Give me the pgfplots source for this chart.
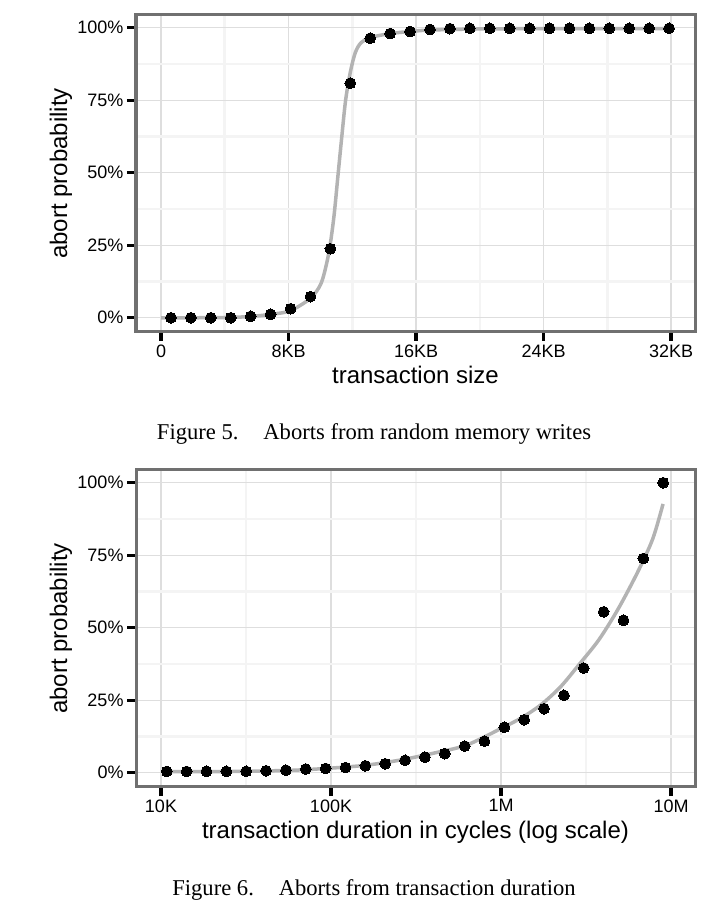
\documentclass[border=0pt]{standalone}
\usepackage{pgfplots}
\pgfplotsset{compat=1.18}
\usepackage{fontspec}
\setmainfont{Liberation Sans}
\newfontfamily\capfont{Liberation Serif}
\definecolor{bordergray}{RGB}{112,112,112}
\definecolor{fitgray}{RGB}{179,179,179}
\definecolor{majgrid}{RGB}{222,222,222}
\definecolor{mingrid}{RGB}{244,244,244}
\pgfplotsset{
 ggstyle/.style={
  scale only axis, width=559bp, height=317bp,
  anchor=south west,
  axis line style={draw=bordergray, line width=3bp},
  tick align=outside, xtick pos=bottom, ytick pos=left,
  major tick length=9bp, minor tick length=0pt,
  every major tick/.append style={draw=black, line width=3.3bp},
  grid=both,
  major grid style={draw=majgrid, line width=1.2bp},
  minor grid style={draw=mingrid, line width=2.6bp},
  ymin=-4.9, ymax=104.4,
  ytick={0,25,50,75,100}, yticklabels={0\%,25\%,50\%,75\%,100\%},
  minor ytick={12.5,37.5,62.5,87.5},
  tick label style={font=\fontsize{18bp}{20bp}\selectfont, text=black},
  label style={font=\fontsize{24bp}{28bp}\selectfont},
  ylabel={abort probability},
  ylabel style={at={(axis description cs:-0.1234,0.5)}, anchor=base},
  xlabel style={at={(axis description cs:0.5,-0.164)}, anchor=base},
  /pgf/number format/assume math mode=true,
 },
 ptstyle/.style={only marks, mark=*, mark size=5.4bp, mark options={draw=black, fill=black, line width=0pt}},
 fitstyle/.style={no marks, smooth, color=fitgray, line width=3.5bp},
}
\begin{document}
\begin{tikzpicture}
\path[use as bounding box] (0,0) rectangle (722bp,919bp);
% Figure 5
\begin{axis}[ggstyle, at={(136bp,587bp)},
  xmin=-1.57, xmax=33.5,
  xtick={0,8,16,24,32}, xticklabels={0,8KB,16KB,24KB,32KB},
  minor xtick={4,12,20,28},
  xlabel={transaction size}]
\addplot[ptstyle] coordinates {
(0.625,0) (1.875,0) (3.125,0) (4.375,0) (5.625,0.5) (6.875,1.2) (8.125,3.1) (9.375,7.3)
(10.625,23.8) (11.875,80.9) (13.125,96.4) (14.375,98.0) (15.625,98.7) (16.875,99.4)
(18.125,99.7) (19.375,99.8) (20.625,99.8) (21.875,99.8) (23.125,99.8) (24.375,99.8)
(25.625,99.8) (26.875,99.8) (28.125,99.8) (29.375,99.8) (30.625,99.8) (31.875,99.8)};
\addplot[fitstyle] coordinates {
(0,0) (2,0) (4,0.1) (5.5,0.4) (6.89,1.2) (8.1,2.4) (9.37,6.7) (10.02,11.6) (10.38,18.5)
(10.62,25.5) (10.86,35.5) (11.10,49) (11.34,62.4) (11.58,75) (11.87,84.5) (12.18,91.3)
(12.54,94.8) (13.12,96.6) (14.37,98.0) (15.62,98.7) (16.87,99.2) (20.2,99.6) (25,99.7) (31.875,99.7)};
\end{axis}
\node[anchor=base, font=\capfont\fontsize{22.6bp}{26bp}\selectfont] at (374bp,479bp) {Figure 5.\hspace{1.1em}Aborts from random memory writes};
% Figure 6
\begin{axis}[ggstyle, at={(136bp,132bp)},
  xmode=log, log basis x=10,
  xmin=7129, xmax=13836000,
  xtick={10000,100000,1000000,10000000}, xticklabels={10K,100K,1M,10M},
  minor xtick={31623,316228,3162278},
  xlabel={transaction duration in cycles (log scale)}]
\addplot[ptstyle] coordinates {
(10814,0.46) (14153,0.46) (18516,0.5) (24234,0.5) (31710,0.5) (41495,0.7) (54300,0.9)
(71060,1.3) (92990,1.5) (121680,1.8) (159220,2.4) (208350,3.1) (272650,4.3) (356780,5.4)
(466870,6.6) (610940,9.2) (799460,10.9) (1046180,15.7) (1369000,18.3) (1791440,22.1)
(2344230,26.7) (3067590,36.1) (4014160,55.5) (5252800,52.6) (6873730,73.9) (8994900,100)};
\addplot[fitstyle] coordinates {
(10814,0.35) (15849,0.4) (30549,0.5) (66988,1.0) (148250,2.4) (250610,4.3) (425580,7.1)
(630960,9.6) (1002300,15.3) (1333500,19.1) (1729800,23.6) (2243900,29.7) (2904000,37.6)
(3767000,45.9) (4886600,56.5) (6338700,69.0) (7798500,80.6) (8974300,92.7)};
\end{axis}
\node[anchor=base, font=\capfont\fontsize{22.6bp}{26bp}\selectfont] at (374bp,24bp) {Figure 6.\hspace{1.1em}Aborts from transaction duration};
\end{tikzpicture}
\end{document}
